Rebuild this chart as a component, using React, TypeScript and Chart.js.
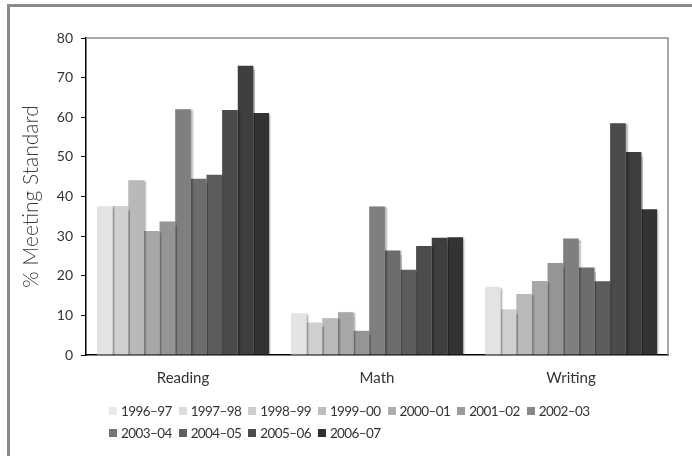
import React, { useEffect, useRef } from "react";
import { Chart, registerables } from "chart.js";

Chart.register(...registerables);

const categories = ["Reading", "Math", "Writing"];
const seasons = [
  "1996–97", "1997–98", "1998–99", "1999–00", "2000–01", "2001–02",
  "2002–03", "2003–04", "2004–05", "2005–06", "2006–07",
];
// values per season: [Reading, Math, Writing]
const v1996 = [37.5, 10.5, 17.2];
const v1997 = [37.6, 8.2, 11.5];
const v1998 = [44.1, 9.3, 15.4];
const v1999 = [31.3, 10.8, 18.7];
const v2000 = [33.7, 6.1, 23.2];
const v2001 = [62.0, 37.5, 29.4];
const v2002 = [44.5, 26.4, 22.1];
const v2003 = [45.5, 21.5, 18.6];
const v2004 = [61.8, 27.5, 58.5];
const v2005 = [73.0, 29.6, 51.2];
const v2006 = [61.1, 29.7, 36.8];
const seriesValues = [v1996, v1997, v1998, v1999, v2000, v2001, v2002, v2003, v2004, v2005, v2006];
const yTicks = [0, 10, 20, 30, 40, 50, 60, 70, 80];

const barColors = [
  "#e3e3e3", "#d0d0d0", "#b9b9b9", "#a7a7a7", "#959595", "#7f7f7f",
  "#6d6d6d", "#5c5c5c", "#4b4b4b", "#3e3e3e", "#333333",
];
const legendColors = [
  "#eaeaea", "#dcdcdc", "#cdcdcd", "#bdbdbd", "#adadad", "#9b9b9b",
  "#888888", "#767676", "#606060", "#4a4a4a", "#303030",
];

const FONT = "Lato, 'Open Sans', sans-serif";

const shadowPlugin = {
  id: "barShadow",
  beforeDatasetsDraw(chart: any) {
    const ctx = chart.ctx;
    ctx.save();
    ctx.shadowColor = "rgba(0,0,0,0.28)";
    ctx.shadowOffsetX = 2;
    ctx.shadowOffsetY = 1;
    ctx.shadowBlur = 1.5;
  },
  afterDatasetsDraw(chart: any) {
    chart.ctx.restore();
  },
};

const frameBoxPlugin = {
  id: "frameBox",
  afterDraw(chart: any) {
    const { ctx, chartArea } = chart;
    ctx.save();
    ctx.strokeStyle = "#8c8c8c";
    ctx.lineWidth = 1.5;
    ctx.beginPath();
    ctx.moveTo(chartArea.left, chartArea.top);
    ctx.lineTo(chartArea.right, chartArea.top);
    ctx.lineTo(chartArea.right, chartArea.bottom);
    ctx.stroke();
    ctx.restore();
  },
};

export default function App() {
  const canvasRef = useRef<HTMLCanvasElement | null>(null);

  useEffect(() => {
    if (!canvasRef.current) return;
    Chart.defaults.font.family = FONT;
    const chart = new Chart(canvasRef.current, {
      type: "bar",
      data: {
        labels: categories,
        datasets: seasons.map((s, i) => ({
          label: s,
          data: seriesValues[i],
          backgroundColor: barColors[i],
          borderWidth: 0,
          categoryPercentage: 0.887,
          barPercentage: 1.0,
        })),
      },
      options: {
        animation: false,
        responsive: false,
        maintainAspectRatio: false,
        layout: { padding: { left: 15, top: 38, right: 24, bottom: 61 } },
        plugins: {
          legend: { display: false },
          tooltip: { enabled: false },
        },
        scales: {
          x: {
            grid: { display: false, drawTicks: false },
            border: { display: true, color: "#000", width: 1.5 },
            ticks: { padding: 14, color: "#333", font: { size: 15 } },
            afterFit: (scale: any) => {
              scale.height = 40;
            },
          },
          y: {
            min: 0,
            max: 80,
            afterBuildTicks: (scale: any) => {
              scale.ticks = yTicks.map((v) => ({ value: v }));
            },
            grid: { drawOnChartArea: false, drawTicks: true, tickLength: 5, color: "#000", lineWidth: 1 },
            border: { display: true, color: "#000", width: 1.5 },
            ticks: { padding: 8, color: "#333", font: { size: 14 } },
            title: {
              display: true,
              text: "% Meeting Standard",
              color: "#3a3a3a",
              font: { size: 21, weight: "300" },
              padding: { top: 4, bottom: 4 },
            },
            afterFit: (scale: any) => {
              scale.width = 71;
            },
          },
        },
      },
      plugins: [shadowPlugin, frameBoxPlugin],
    } as any);
    return () => chart.destroy();
  }, []);

  return (
    <div style={{ position: "fixed", left: 0, top: 0, width: 692, height: 456, background: "#fff", overflow: "hidden" }}>
      <div
        style={{
          position: "absolute",
          left: 7,
          top: 4,
          width: 720,
          height: 480,
          borderLeft: "3px solid #8a8a8a",
          borderTop: "3px solid #8a8a8a",
        }}
      />
      <canvas ref={canvasRef} width={692} height={456} style={{ position: "absolute", left: 0, top: 0 }} />
      <div
        style={{
          position: "absolute",
          left: 109,
          top: 400,
          width: 505,
          display: "flex",
          flexWrap: "wrap",
          fontFamily: FONT,
          fontSize: 13.5,
          letterSpacing: "-0.6px",
          color: "#333",
        }}
      >
        {seasons.map((s, i) => (
          <div key={s} style={{ display: "flex", alignItems: "center", height: 22, marginRight: 7 }}>
            <span style={{ display: "inline-block", width: 8, height: 8, background: legendColors[i], marginRight: 4 }} />
            <span style={{ lineHeight: "22px" }}>{s}</span>
          </div>
        ))}
      </div>
    </div>
  );
}
